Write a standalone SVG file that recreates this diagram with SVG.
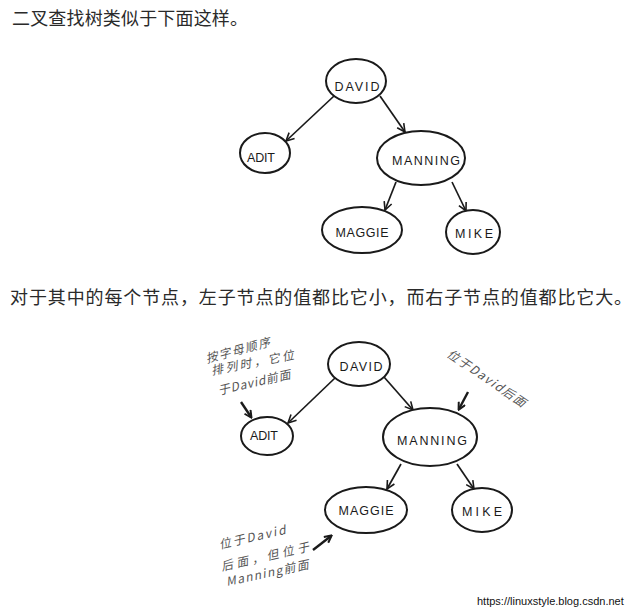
<svg xmlns="http://www.w3.org/2000/svg" width="641" height="610" viewBox="0 0 641 610">
<style>
.hdr{font-family:"Noto Sans CJK SC","Noto Sans",sans-serif;font-size:18px;fill:#2a2a2a}
.node ellipse{fill:#fff;stroke:#1a1a1a;stroke-width:2}
.lbl{font-family:"Liberation Sans",Arial,sans-serif;font-size:12.5px;fill:#1a1a1a;text-anchor:middle}
.conn line{stroke:#1a1a1a;stroke-width:1.7;fill:none}
.note{font-family:"Noto Sans CJK SC","Liberation Sans",sans-serif;font-size:12px;fill:#555;font-style:italic}
.narr{stroke:#1a1a1a;stroke-width:2.4;fill:none}
.wm{font-family:"Liberation Sans",Arial,sans-serif;font-size:11px;fill:#111}
</style>
<defs>
<marker id="ah" viewBox="0 0 10 10" refX="9" refY="5" markerWidth="10" markerHeight="10" markerUnits="userSpaceOnUse" orient="auto">
<path d="M1,1 L9,5 L1,9" fill="none" stroke="#1a1a1a" stroke-width="1.6"/>
</marker>
<marker id="ah2" viewBox="0 0 10 10" refX="8" refY="5" markerWidth="9" markerHeight="9" markerUnits="userSpaceOnUse" orient="auto">
<path d="M1,1 L9,5 L1,9" fill="none" stroke="#1a1a1a" stroke-width="2.2"/>
</marker>
</defs>
<rect width="641" height="610" fill="#fff"/>

<text class="hdr" x="12" y="25" textLength="236" lengthAdjust="spacing">二叉查找树类似于下面这样。</text>
<text class="hdr" x="10" y="304" textLength="622" lengthAdjust="spacing">对于其中的每个节点，左子节点的值都比它小，而右子节点的值都比它大。</text>

<!-- top tree -->
<g id="top-connectors" class="conn">
<line x1="334" y1="96" x2="286" y2="141" marker-end="url(#ah)"/>
<line x1="380" y1="96" x2="405" y2="132" marker-end="url(#ah)"/>
<line x1="396" y1="182" x2="385" y2="210" marker-end="url(#ah)"/>
<line x1="452" y1="182" x2="466" y2="211" marker-end="url(#ah)"/>
</g>
<g id="t-david" class="node"><ellipse cx="356" cy="81" rx="30" ry="22"/><text class="lbl" x="357" y="91" textLength="45">DAVID</text></g>
<g id="t-adit" class="node"><ellipse cx="265" cy="153" rx="25" ry="20"/><text class="lbl" x="261" y="162" font-size="11" textLength="28">ADIT</text></g>
<g id="t-manning" class="node"><ellipse cx="421" cy="158" rx="44" ry="27"/><text class="lbl" x="426" y="165" textLength="68">MANNING</text></g>
<g id="t-maggie" class="node"><ellipse cx="362" cy="230" rx="40" ry="23"/><text class="lbl" x="362" y="237" textLength="53">MAGGIE</text></g>
<g id="t-mike" class="node"><ellipse cx="473" cy="232" rx="27" ry="22"/><text class="lbl" x="474" y="238" textLength="38">MIKE</text></g>

<!-- bottom tree -->
<g id="bottom-connectors" class="conn">
<line x1="335" y1="378" x2="288" y2="423" marker-end="url(#ah)"/>
<line x1="384" y1="377" x2="413" y2="410" marker-end="url(#ah)"/>
<line x1="401" y1="464" x2="387" y2="489" marker-end="url(#ah)"/>
<line x1="457" y1="464" x2="474" y2="489" marker-end="url(#ah)"/>
<path class="narr" d="M241,402 L251,417" marker-end="url(#ah2)"/>
<path class="narr" d="M468,392 L459,409" marker-end="url(#ah2)"/>
<path class="narr" d="M313,550 L331,536" marker-end="url(#ah2)"/>
</g>
<g id="b-david" class="node"><ellipse cx="359" cy="364" rx="31" ry="22"/><text class="lbl" x="361" y="371" textLength="43">DAVID</text></g>
<g id="b-adit" class="node"><ellipse cx="267" cy="436" rx="26" ry="19"/><text class="lbl" x="264" y="440" font-size="11" textLength="28">ADIT</text></g>
<g id="b-manning" class="node"><ellipse cx="430" cy="437" rx="47" ry="29"/><text class="lbl" x="432" y="445" textLength="70">MANNING</text></g>
<g id="b-maggie" class="node"><ellipse cx="366" cy="510" rx="41" ry="23"/><text class="lbl" x="366" y="515" textLength="55">MAGGIE</text></g>
<g id="b-mike" class="node"><ellipse cx="482" cy="510" rx="30" ry="22"/><text class="lbl" x="482" y="516" textLength="40">MIKE</text></g>

<g id="note-adit">
<text class="note" x="207" y="363" transform="rotate(-15 207 363)" textLength="66" lengthAdjust="spacing">按字母顺序</text>
<text class="note" x="212" y="375" transform="rotate(-11 212 375)" textLength="84" lengthAdjust="spacing">排列时，它位</text>
<text class="note" x="219" y="395" transform="rotate(-13 219 395)" textLength="74" lengthAdjust="spacing">于David前面</text>
</g>
<g id="note-manning">
<text class="note" x="446" y="356" transform="rotate(34 446 356)" textLength="92" lengthAdjust="spacing">位于David后面</text>
</g>
<g id="note-maggie">
<text class="note" x="220" y="549" transform="rotate(-13 220 549)" textLength="68" lengthAdjust="spacing">位于David</text>
<text class="note" x="222" y="571" transform="rotate(-13 222 571)" textLength="90" lengthAdjust="spacing">后面，但位于</text>
<text class="note" x="227" y="586" transform="rotate(-12 227 586)" textLength="84" lengthAdjust="spacing">Manning前面</text>
</g>

<text class="wm" x="477" y="605">https://linuxstyle.blog.csdn.net</text>
</svg>
